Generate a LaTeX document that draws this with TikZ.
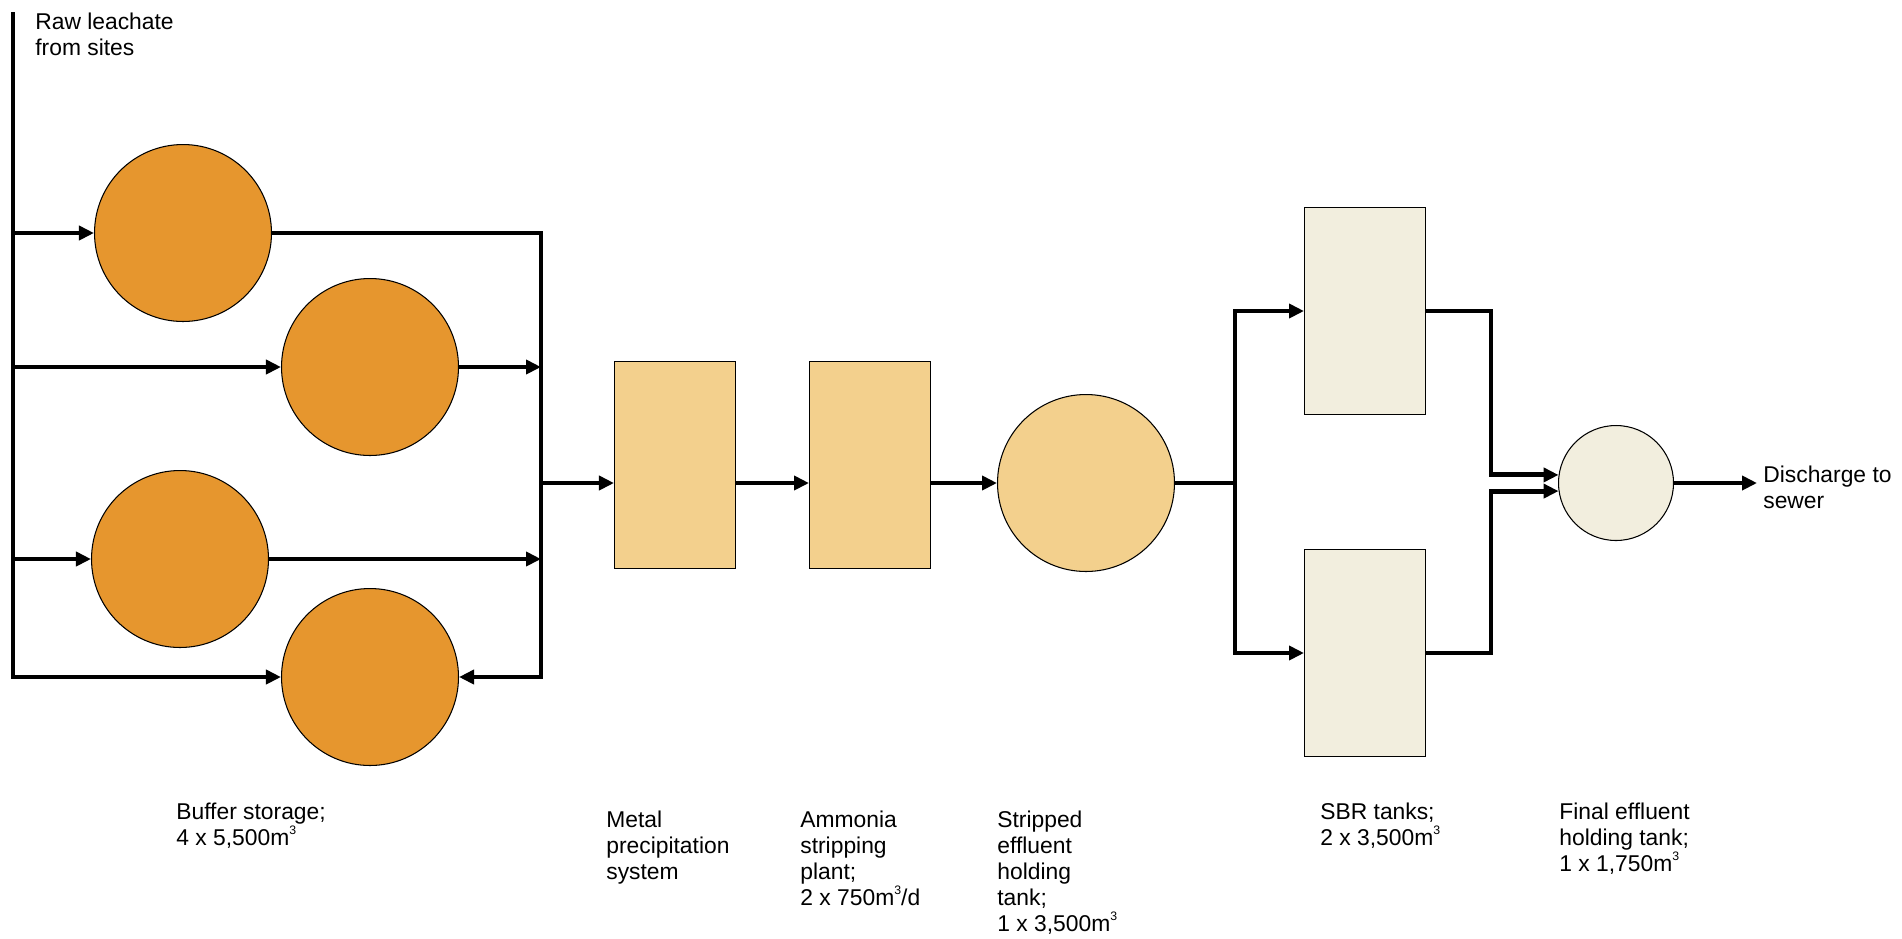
\documentclass[tikz,border=0pt]{standalone}
\usepackage{fontspec}
\setmainfont{Liberation Sans}
\usetikzlibrary{positioning, arrows.meta, calc}

\definecolor{bufferorange}{RGB}{230,150,46}
\definecolor{processtan}{RGB}{243,208,141}
\definecolor{sbrcream}{RGB}{242,238,222}

\newcommand{\cubic}{\raisebox{0.9ex}{\fontsize{7}{7}\selectfont 3}}

\begin{document}
\begin{tikzpicture}[
    x=0.02cm, y=-0.02cm,
    % Buffer storage tanks (orange discs)
    buffertank/.style={
        circle,
        draw=black,
        line width=0.6pt,
        fill=bufferorange,
        minimum size=3.54cm,
        inner sep=0pt
    },
    % Treatment units drawn as upright boxes
    unitbox/.style={
        rectangle,
        draw=black,
        line width=0.6pt,
        fill=processtan,
        minimum width=2.42cm,
        minimum height=4.14cm,
        inner sep=0pt
    },
    holdtank/.style={buffertank, fill=processtan},
    sbrbox/.style={unitbox, fill=sbrcream},
    finaltank/.style={buffertank, fill=sbrcream, minimum size=2.3cm},
    % Captions under the units
    caption/.style={
        anchor=north west,
        align=left,
        inner sep=0pt,
        text=black,
        font=\fontsize{13}{14.7}\selectfont
    },
    % Thick pipes with solid triangle tips
    pipe/.style={
        draw=black,
        line width=2.8pt
    },
    arrow/.style={
        pipe,
        -{Triangle[length=0.3cm, width=0.28cm]}
    }
]
\useasboundingbox (0,0) rectangle (1902,938);

% --- BUFFER STORAGE: four tanks fed from the left ---
\node[buffertank] (buf1) at (183,233) {};
\node[buffertank] (buf2) at (370,367) {};
\node[buffertank] (buf3) at (180,559) {};
\node[buffertank] (buf4) at (370,677) {};

\coordinate (feedtop) at (13,12);
\coordinate (collector) at (541,0);
\coordinate (mainline) at (0,483);

% --- TREATMENT TRAIN ---
\node[unitbox] (metal) at (675,465) {};
\node[unitbox, right=1.46cm of metal] (ammonia) {};
\node[holdtank] (stripped) at (1086,483) {};
\coordinate (split) at (1235,483);

\node[sbrbox] (sbrA) at (1365,311) {};
\node[sbrbox, below=2.68cm of sbrA] (sbrB) {};
\coordinate (merge) at (1491,0);

\node[finaltank] (final) at (1616,483) {};
\coordinate (sewer) at (1757,483);

% Feed line down the left edge
\draw[arrow] (feedtop) |- (buf4.west);
\foreach \tank in {buf1,buf2,buf3}
    \draw[arrow] (feedtop |- \tank.west) -- (\tank.west);

% Collector on the right of the buffer tanks
\draw[arrow] (buf1.east) -| (collector |- buf4.east) -- (buf4.east);
\foreach \tank in {buf2,buf3}
    \draw[arrow] (\tank.east) -- (collector |- \tank.east);

% Main line through the plant
\draw[arrow] (collector |- mainline) -- (metal.west |- mainline);
\draw[arrow] (metal.east |- mainline) -- (ammonia.west |- mainline);
\draw[arrow] (ammonia.east |- mainline) -- (stripped.west);
\draw[pipe] (stripped.east) -- (split);
\draw[arrow] (split) |- (sbrA.west);
\draw[arrow] (split) |- (sbrB.west);
\draw[arrow] (sbrA.east) -| (merge |- final.172) -- (final.172);
\draw[arrow] (sbrB.east) -| (merge |- final.188) -- (final.188);
\draw[arrow] (final.east) -- (sewer);

% --- CAPTIONS ---
\node[caption] (rawlabel) at (35,13) {Raw leachate\\from sites};
\node[caption] (buflabel) at (176,803) {Buffer storage;\\4 x 5,500m\cubic};
\node[caption] (metallabel) at (606,811) {Metal\\precipitation\\system};
\node[caption] (ammonialabel) at (800,811) {Ammonia\\stripping\\plant;\\2 x 750m\cubic/d};
\node[caption] (strippedlabel) at (997,811) {Stripped\\effluent\\holding\\tank;\\1 x 3,500m\cubic};
\node[caption] (sbrlabel) at (1320,803) {SBR tanks;\\2 x 3,500m\cubic};
\node[caption] (finallabel) at (1559,803) {Final effluent\\holding tank;\\1 x 1,750m\cubic};
\node[caption, anchor=west] (sewerlabel) at (1763,487) {Discharge to\\sewer};

\end{tikzpicture}
\end{document}
